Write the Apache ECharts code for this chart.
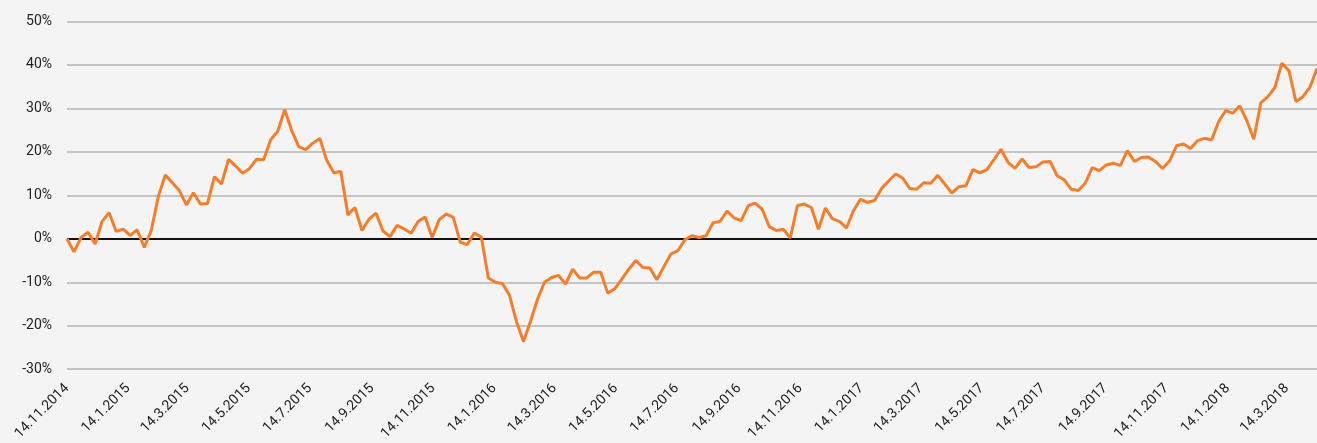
<!DOCTYPE html>
<html>
<head>
<meta charset="utf-8">
<script src="https://cdn.jsdelivr.net/npm/echarts@6/dist/echarts.min.js"></script>
<style>
    html, body { margin: 0; padding: 0; background: #f4f4f4; }
    #chart { width: 1317px; height: 443px; }
</style>
</head>
<body>
<div id="chart"></div>
<script>
    // weekly values, first week 14.11.2014
    var startDate = '14.11.2014';
    var weekValues = [
        0, -3, 0.3, 1.5, -1.2, 4.0, 6.0, 1.7, 2.2, 0.8, 2.1, -2.0, 1.9, 9.7, 14.7, 12.9, 11.1, 7.8, 10.6, 8.0,
        8.1, 14.3, 12.6, 18.3, 16.8, 15.1, 16.2, 18.3, 18.2, 22.8, 24.7, 29.7, 24.9, 21.2, 20.5, 22.0, 23.1, 18.0,
        15.2, 15.5, 5.5, 7.2, 1.9, 4.5, 5.9, 1.8, 0.5, 3.1, 2.3, 1.3, 4.0, 5.0, 0.3, 4.4, 5.7, 5.0, -0.8, -1.3, 1.3, 0.4,
        -9.0, -10.0, -10.3, -12.9, -19.0, -23.6, -19.0, -13.9, -10.0, -8.9, -8.4, -10.4, -7.0, -9.0, -9.0, -7.7, -7.7,
        -12.5, -11.5, -9.3, -7.0, -5.0, -6.6, -6.7,
        -9.4, -6.4, -3.5, -2.7, -0.2, 0.7, 0.3, 0.7,
        3.7, 4.0, 6.4, 4.8, 4.2, 7.6, 8.2, 6.8, 2.8, 1.9, 2.2, 0.2, 7.6, 8.0, 7.2, 2.2, 7.1, 4.6, 4.0, 2.5, 6.5, 9.1,
        8.4, 8.8, 11.6, 13.3, 14.9, 14.0, 11.6, 11.4, 12.9, 12.8, 14.6, 12.6, 10.5, 12.0, 12.2,
        15.9, 15.2, 15.9, 18.2, 20.6, 17.6, 16.2, 18.4, 16.4, 16.6, 17.7, 17.8, 14.5, 13.6, 11.4, 11.1, 12.8, 16.4,
        15.7, 17.0, 17.4, 16.9, 20.3, 17.8, 18.7, 18.8, 17.8, 16.2, 17.9, 21.4, 21.8, 20.8, 22.6, 23.1, 22.8, 27.0,
        29.5, 28.9, 30.6, 27.2, 22.9, 31.3, 32.7, 34.8, 40.4, 38.7, 31.6, 32.7, 34.9, 39.2
    ];
    var xTickLabels = [
        '14.11.2014', '14.1.2015', '14.3.2015', '14.5.2015', '14.7.2015', '14.9.2015', '14.11.2015',
        '14.1.2016', '14.3.2016', '14.5.2016', '14.7.2016', '14.9.2016', '14.11.2016',
        '14.1.2017', '14.3.2017', '14.5.2017', '14.7.2017', '14.9.2017', '14.11.2017',
        '14.1.2018', '14.3.2018'
    ];

    function parseDate(s) {
        var p = s.split('.');
        return new Date(+p[2], +p[1] - 1, +p[0]).getTime();
    }
    function fmtDate(v) {
        var d = new Date(v);
        return d.getDate() + '.' + (d.getMonth() + 1) + '.' + d.getFullYear();
    }

    var t0 = parseDate(startDate);
    var seriesData = [];
    for (var i = 0; i < weekValues.length; i++) {
        var d = new Date(t0);
        d.setDate(d.getDate() + i * 7);
        seriesData.push([d.getTime(), weekValues[i]]);
    }

    var myChart = echarts.init(document.getElementById('chart'));
    var option = {
        backgroundColor: '#f4f4f4',
        animation: false,
        grid: { left: 67, right: 0, top: 21.5, bottom: 73.5 },
        xAxis: {
            type: 'value',
            min: seriesData[0][0],
            max: seriesData[seriesData.length - 1][0],
            axisLine: { show: false },
            axisTick: { show: false },
            splitLine: { show: false },
            axisLabel: {
                customValues: xTickLabels.map(parseDate),
                formatter: function (v) { return fmtDate(v); },
                rotate: 45,
                margin: 17,
                hideOverlap: false,
                fontFamily: 'Roboto',
                fontSize: 14,
                color: '#222'
            }
        },
        yAxis: {
            type: 'value',
            min: -30,
            max: 50,
            interval: 10,
            axisLine: { show: false },
            axisTick: { show: false },
            splitLine: { lineStyle: { color: '#c4c4c4', width: 2 } },
            axisLabel: {
                formatter: '{value}%',
                margin: 15,
                fontFamily: 'Roboto',
                fontSize: 14,
                color: '#222'
            }
        },
        series: [{
            type: 'line',
            data: seriesData,
            showSymbol: false,
            lineStyle: { color: '#f77d2a', width: 3 },
            itemStyle: { color: '#f77d2a' },
            z: 3,
            markLine: {
                silent: true,
                symbol: 'none',
                label: { show: false },
                lineStyle: { color: '#111', width: 2, type: 'solid' },
                data: [{ yAxis: 0 }],
                z: 2
            }
        }]
    };
    myChart.setOption(option, true);
</script>
</body>
</html>
